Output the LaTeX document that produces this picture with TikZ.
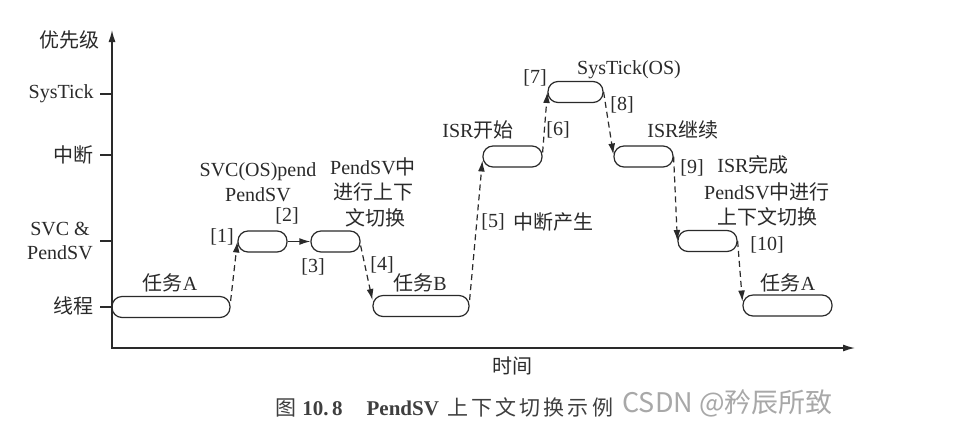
\documentclass[tikz,border=0pt]{standalone}
\usepackage{fontspec}
\setmainfont{Liberation Serif}
\newfontfamily\cjk{Noto Sans CJK SC}
\usetikzlibrary{arrows.meta,calc}
\definecolor{ink}{HTML}{2A2A2A}
\definecolor{wm}{HTML}{A8A8A8}
\begin{document}
\begin{tikzpicture}[x=0.5pt,y=-0.5pt,
  seg/.style={draw=ink, line width=0.6pt, rounded corners=5pt, minimum height=10.5pt, inner sep=0pt},
  lbl/.style={text=ink, font=\fontsize{10}{12}\selectfont, inner sep=0pt},
  dflow/.style={draw=ink, line width=0.6pt, dash pattern=on 3pt off 2pt, -{Latex[length=5.5pt,width=3.4pt]}},
  sflow/.style={draw=ink, line width=0.6pt, -{Latex[length=5.5pt,width=3.4pt]}},
  axis/.style={draw=ink, line width=0.7pt},
  tick/.style={draw=ink, line width=0.6pt}]
\fill[white] (0,0) rectangle (972,440);
\useasboundingbox (0,0) rectangle (972,440);
% axes
\coordinate (ytop) at (112,30);
\coordinate (O) at (112,348);
\coordinate (xend) at (855,348);
\draw[axis,{Latex[length=6pt,width=3.5pt]}-{Latex[length=6pt,width=3.5pt]}] (ytop) -- (O) -- (xend);
% ticks
\coordinate (t1) at (112,94);  \coordinate (t1a) at (100,94);
\coordinate (t2) at (112,155); \coordinate (t2a) at (100,155);
\coordinate (t3) at (112,241); \coordinate (t3a) at (100,241);
\coordinate (t4) at (112,307); \coordinate (t4a) at (100,307);
\draw[tick] (t1a) -- (t1);
\draw[tick] (t2a) -- (t2);
\draw[tick] (t3a) -- (t3);
\draw[tick] (t4a) -- (t4);
% axis labels
\node[lbl,anchor=east] (ly) at (100,40) {\cjk 优先级};
\node[lbl,anchor=east] (l1) at (94,94) {SysTick};
\node[lbl,anchor=east] (l2) at (94,155) {\cjk 中断};
\node[lbl] (l3a) at (60,229) {SVC \&};
\node[lbl] (l3b) at (60,253) {PendSV};
\node[lbl,anchor=east] (l4) at (94,306) {\cjk 线程};
\node[lbl] (lx) at (512,366) {\cjk 时间};
% segments
\node[seg, minimum width=59pt] (tA) at (171,307) {};
\node[seg, minimum width=24.5pt] (s1) at (262.5,241.5) {};
\node[seg, minimum width=24.5pt] (s2) at (335.5,241.5) {};
\node[seg, minimum width=48pt] (tB) at (421,306) {};
\node[seg, minimum width=29.5pt] (i1) at (512.5,156.5) {};
\node[seg, minimum width=27.5pt] (st) at (575.5,92) {};
\node[seg, minimum width=29.5pt] (i2) at (643.5,156.5) {};
\node[seg, minimum width=29.5pt] (p2) at (707.5,241) {};
\node[seg, minimum width=44.5pt] (tA2) at (787.5,305.5) {};
% transitions
\draw[dflow] ([yshift=3pt]tA.east) -- (s1.west);
\draw[sflow] (s1.east) -- (s2.west);
\draw[dflow] ([yshift=-2pt]s2.east) -- ([yshift=3pt]tB.west);
\draw[dflow] ([yshift=3pt]tB.east) -- ([yshift=-2pt]i1.west);
\draw[dflow] ([yshift=2pt]i1.east) -- (st.west);
\draw[dflow] (st.east) -- ([yshift=1pt]i2.west);
\draw[dflow] (i2.east) -- (p2.west);
\draw[dflow] (p2.east) -- ([yshift=2pt]tA2.west);
% labels
\node[lbl] (n0) at (170,283) {{\cjk 任务}A};
\node[lbl] (n1a) at (258,172) {SVC(OS)pend};
\node[lbl] (n1b) at (258,195) {PendSV};
\node[lbl] (k1) at (222,237) {[1]};
\node[lbl] (k2) at (287,216) {[2]};
\node[lbl] (k3) at (313,267) {[3]};
\node[lbl] (n2a) at (373,167) {PendSV{\cjk 中}};
\node[lbl] (n2b) at (373,192) {\cjk 进行上下};
\node[lbl] (n2c) at (375,218) {\cjk 文切换};
\node[lbl] (k4) at (382,265) {[4]};
\node[lbl] (n3) at (420,283) {{\cjk 任务}B};
\node[lbl] (k5) at (493,222) {[5]};
\node[lbl] (n4) at (553,222) {\cjk 中断产生};
\node[lbl] (n5) at (478,130) {ISR{\cjk 开始}};
\node[lbl] (k6) at (558,130) {[6]};
\node[lbl] (k7) at (535,78) {[7]};
\node[lbl] (n6) at (629,70) {SysTick(OS)};
\node[lbl] (k8) at (622,105) {[8]};
\node[lbl] (n7) at (683,130) {ISR{\cjk 继续}};
\node[lbl] (k9) at (692,168) {[9]};
\node[lbl] (n8) at (753,165) {ISR{\cjk 完成}};
\node[lbl] (n9a) at (767,192) {PendSV{\cjk 中进行}};
\node[lbl] (n9b) at (767,217) {\cjk 上下文切换};
\node[lbl] (k10) at (767,245) {[10]};
\node[lbl] (n10) at (788,283) {{\cjk 任务}A};
% caption and watermark
\node[lbl, anchor=west, text=ink!90, font=\fontsize{10.5}{12}\selectfont] (cap) at (275,407) {{\cjk 图}\hspace{3pt}\textbf{10.\,8}\hspace{12pt}\textbf{PendSV}\hspace{4pt}{\cjk 上\hspace{1.6pt}下\hspace{1.6pt}文\hspace{1.6pt}切\hspace{1.6pt}换\hspace{1.6pt}示\hspace{1.6pt}例}};
\node[inner sep=0pt, text=wm, font=\cjk\fontsize{13.5}{15}\selectfont, anchor=west] (wmk) at (622,403) {CSDN @矜辰所致};
\end{tikzpicture}
\end{document}
